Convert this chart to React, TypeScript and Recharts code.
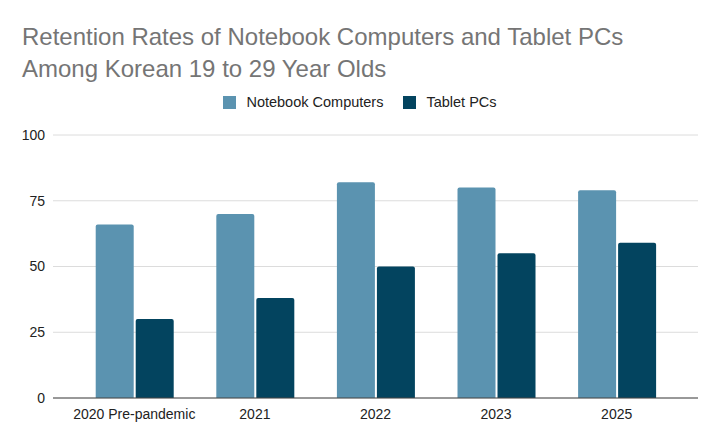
import React from 'react';
import { BarChart, Bar, XAxis, YAxis, CartesianGrid } from 'recharts';

const CATEGORIES = ['2020 Pre-pandemic', '2021', '2022', '2023', '2025'];
const NOTEBOOK = [66, 70, 82, 80, 79];
const TABLET = [30, 38, 50, 55, 59];
const Y_TICKS = [0, 25, 50, 75, 100];
const SERIES = [
  { key: 'notebook', label: 'Notebook Computers', color: '#5b93b0' },
  { key: 'tablet', label: 'Tablet PCs', color: '#03445f' },
];

const FONT = '"Liberation Sans", Arial, sans-serif';

const data = CATEGORIES.map((c, i) => ({ name: c, notebook: NOTEBOOK[i], tablet: TABLET[i] }));

function ChartLegend() {
  return (
    <div
      style={{
        position: 'absolute',
        top: 94,
        left: 0,
        width: 720,
        display: 'flex',
        justifyContent: 'center',
        gap: 20,
        fontFamily: FONT,
        fontSize: 14.5,
        color: '#222',
      }}
    >
      {SERIES.map((s) => (
        <div key={s.key} style={{ display: 'flex', alignItems: 'center', lineHeight: '17px' }}>
          <span style={{ display: 'inline-block', width: 13, height: 13, background: s.color, marginRight: 10 }} />
          <span>{s.label}</span>
        </div>
      ))}
    </div>
  );
}

export default function App() {
  return (
    <div style={{ position: 'absolute', left: 0, top: 0, width: 720, height: 446, background: '#fff', fontFamily: FONT }}>
      <div
        style={{
          position: 'absolute',
          left: 22,
          top: 21,
          fontSize: 24,
          lineHeight: '32px',
          color: '#757575',
          whiteSpace: 'nowrap',
        }}
      >
        Retention Rates of Notebook Computers and Tablet PCs
        <br />
        Among Korean 19 to 29 Year Olds
      </div>
      <ChartLegend />
      <div style={{ position: 'absolute', left: 0, top: 0 }}>
        <BarChart
          width={720}
          height={446}
          data={data}
          margin={{ top: 135, right: 22, left: 0, bottom: 18 }}
          barCategoryGap="18%"
          barGap={2}
        >
          <CartesianGrid vertical={false} stroke="#dcdcdc" />
          <XAxis
            dataKey="name"
            tickLine={false}
            axisLine={{ stroke: '#444' }}
            tick={{ fontSize: 14, fill: '#222', fontFamily: FONT }}
            tickMargin={5}
            padding={{ left: 21, right: 21 }}
          />
          <YAxis
            domain={[0, 100]}
            ticks={Y_TICKS}
            width={53}
            tickLine={false}
            axisLine={false}
            tick={{ fontSize: 14, fill: '#222', fontFamily: FONT }}
            tickMargin={2}
          />
          {SERIES.map((s) => (
            <Bar
              key={s.key}
              dataKey={s.key}
              name={s.label}
              fill={s.color}
              radius={[2, 2, 0, 0]}
              isAnimationActive={false}
            />
          ))}
        </BarChart>
      </div>
    </div>
  );
}
